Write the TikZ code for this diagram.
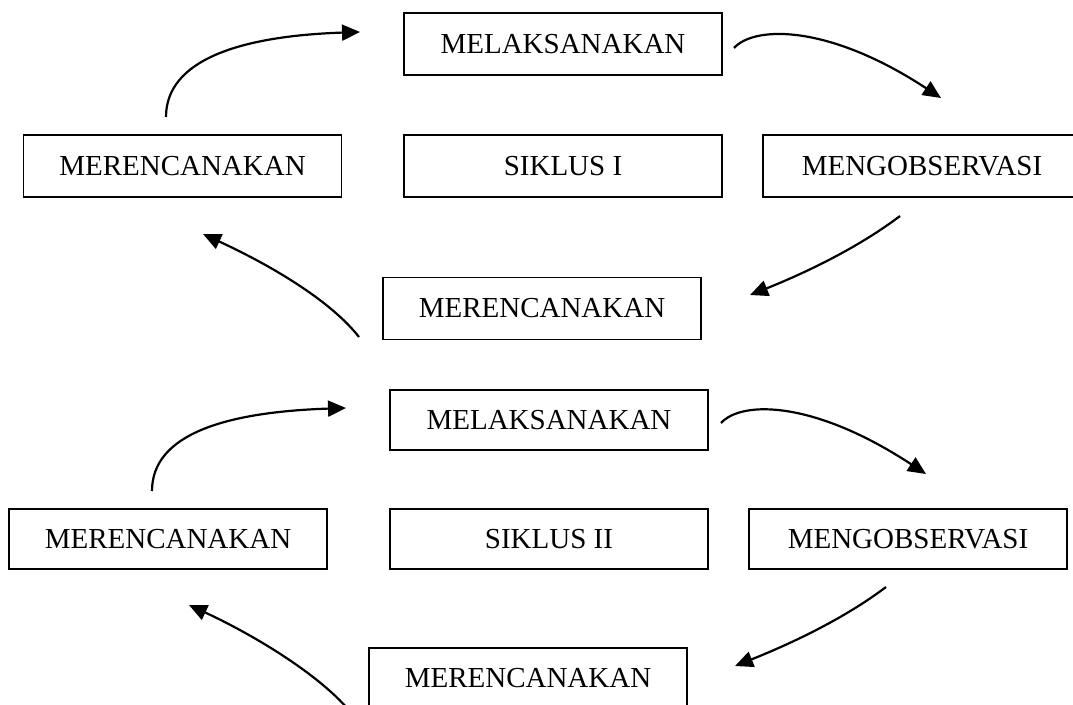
\documentclass[tikz,border=0pt]{standalone}
\usepackage{fontspec}
\setmainfont{Liberation Serif}
\usetikzlibrary{arrows.meta}
\begin{document}
\begin{tikzpicture}[x=1pt,y=1pt,
  box/.style={draw, line width=1.6pt, minimum width=318pt, minimum height=62pt, inner sep=0pt, font=\fontsize{29}{34}\selectfont},
  boxb/.style={box, minimum height=60pt},
  flow/.style={line width=2.2pt, -{Triangle[length=18pt,width=16pt]}}]
\useasboundingbox (0,0) rectangle (1073,-704);
% Cycle I
\node[box] (mel1) at (563,-44) {MELAKSANAKAN};
\node[box] (mer1) at (182.5,-166) {MERENCANAKAN};
\node[box] (sik1) at (563,-166) {SIKLUS I};
\node[box] (obs1) at (922,-166) {MENGOBSERVASI};
\node[box] (rev1) at (542,-308.5) {MERENCANAKAN};
% Cycle II
\node[boxb] (mel2) at (549,-420) {MELAKSANAKAN};
\node[boxb] (mer2) at (168,-539) {MERENCANAKAN};
\node[boxb] (sik2) at (549,-539) {SIKLUS II};
\node[boxb] (obs2) at (908,-539) {MENGOBSERVASI};
\node[boxb] (rev2) at (528,-678) {MERENCANAKAN};
% arrow end points cycle I
\coordinate (a1s) at (166,-117);
\coordinate (a1e) at (360,-32);
\coordinate (a2s) at (734,-48);
\coordinate (a2e) at (941,-98);
\coordinate (a3s) at (900,-216);
\coordinate (a3e) at (750,-295);
\coordinate (a4s) at (359,-337);
\coordinate (a4e) at (203,-234);
% arrow end points cycle II
\coordinate (b1s) at (152,-491);
\coordinate (b1e) at (346,-408);
\coordinate (b2s) at (721,-423);
\coordinate (b2e) at (926,-474);
\coordinate (b3s) at (886,-587);
\coordinate (b3e) at (735,-666);
\coordinate (b4s) at (352,-714);
\coordinate (b4e) at (189,-605);
% arrows cycle I
\draw[flow] (a1s) .. controls +(0,57) and +(-120,-4) .. (a1e);
\draw[flow] (a2s) .. controls +(21,23) and +(-111,73) .. (a2e);
\draw[flow] (a3s) .. controls +(-45,-34) and +(50,20) .. (a3e);
\draw[flow] (a4s) .. controls +(-29,37) and +(67,-31) .. (a4e);
% arrows cycle II
\draw[flow] (b1s) .. controls +(0,57) and +(-120,-4) .. (b1e);
\draw[flow] (b2s) .. controls +(21,23) and +(-111,73) .. (b2e);
\draw[flow] (b3s) .. controls +(-45,-34) and +(50,20) .. (b3e);
\draw[flow] (b4s) .. controls +(-29,37) and +(67,-31) .. (b4e);
\end{tikzpicture}
\end{document}
